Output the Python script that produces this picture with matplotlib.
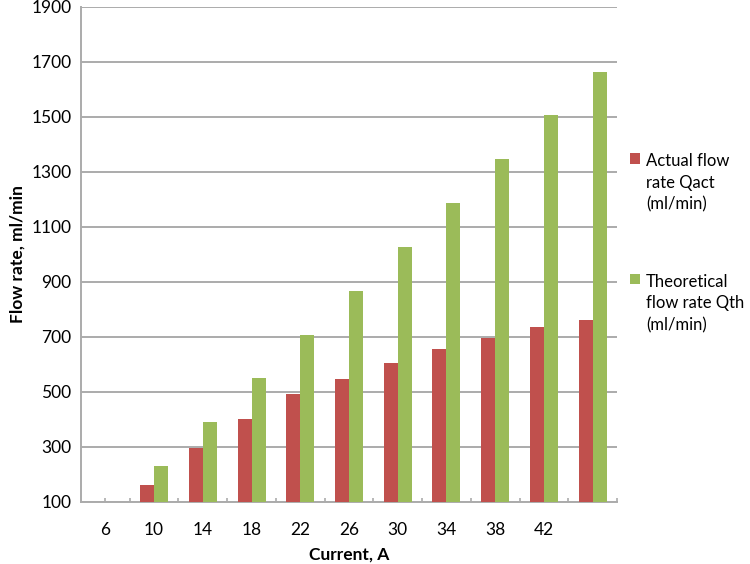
import matplotlib
matplotlib.use("Agg")
import matplotlib.pyplot as plt
from matplotlib.ticker import FixedLocator
import numpy as np

plt.rcParams['font.family'] = ['Lato', 'DejaVu Sans']

# --- Data ---
current = ["6", "10", "14", "18", "22", "26", "30", "34", "38", "42", ""]
q_actual = [45, 161, 295, 401, 490, 545, 605, 654, 696, 735, 760]
q_theory = [67, 228, 389, 549, 706, 866, 1025, 1185, 1345, 1505, 1664]

red = "#C0504D"
green = "#9BBB59"
grid_gray = "#ABABAB"

fig = plt.figure(figsize=(7.5, 5.64), dpi=100)
ax = fig.add_axes([0.108, 0.1105, 0.7147, 0.8775])

x = np.arange(len(current))
w = 0.2875
ax.bar(x - w / 2, q_actual, width=w, color=red, label="Actual flow\nrate Qact\n(ml/min)", zorder=3)
ax.bar(x + w / 2, q_theory, width=w, color=green, label="Theoretical\nflow rate Qth\n(ml/min)", zorder=3)

ax.set_xlim(-0.5, len(current) - 0.5)
ax.set_ylim(100, 1900)
ax.set_yticks(np.arange(100, 1901, 200))
ax.yaxis.grid(True, color=grid_gray, linewidth=1.4, zorder=0)
ax.tick_params(axis="y", length=0, pad=7, labelsize=12.5)

# category labels at the centres, tick marks between categories (plus one at the first centre)
ax.set_xticks(x)
ax.set_xticklabels(current)
ax.xaxis.set_minor_locator(FixedLocator([0] + list(np.arange(0.5, len(current), 1.0))))
ax.xaxis.remove_overlapping_locs = False
ax.tick_params(axis="x", which="major", length=0, pad=14.5, labelsize=12.5)
ax.tick_params(axis="x", which="minor", direction="in", length=3, width=1.2, color=grid_gray)

for s in ["top", "right"]:
    ax.spines[s].set_visible(False)
for s in ["left", "bottom"]:
    ax.spines[s].set_color(grid_gray)
    ax.spines[s].set_linewidth(1.4)

ax.set_xlabel("Current, A", fontsize=12.5, fontweight="bold", labelpad=6)
ax.set_ylabel("Flow rate, ml/min", fontsize=12.5, fontweight="bold", labelpad=4)

leg = ax.legend(loc="upper left", bbox_to_anchor=(0.996, 0.735), frameon=False,
                fontsize=12, handlelength=0.62, handleheight=0.62, handletextpad=0.35,
                labelspacing=3.65)
for col in leg._legend_handle_box.get_children():
    for item in col.get_children():
        item.align = "top"
for t in leg.get_texts():
    t.set_linespacing(1.45)

fig.savefig("out.png", dpi=100)
